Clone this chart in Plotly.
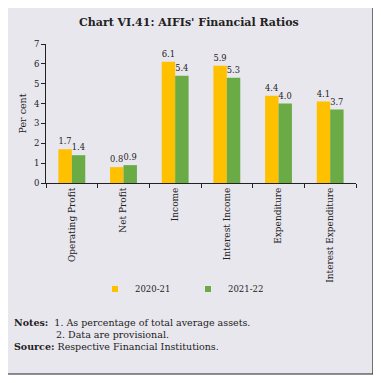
import plotly.graph_objects as go

categories = ["Operating Profit", "Net Profit", "Income", "Interest Income", "Expenditure", "Interest Expenditure"]
series_names = ["2020-21", "2021-22"]
values_2020_21 = [1.7, 0.8, 6.1, 5.9, 4.4, 4.1]
values_2021_22 = [1.4, 0.9, 5.4, 5.3, 4.0, 3.7]
y_ticks = [0, 1, 2, 3, 4, 5, 6, 7]
colors = ["#FFC000", "#6AAB46"]

FONT = "DejaVu Serif"
OFF = 8  # page body margin
W, H = 381 - 2 * OFF, 383 - 2 * OFF
# plot area in page coordinates
PL, PR, PT, PB = 46, 356, 44, 183
L, R, T, B = PL - OFF, W - (PR - OFF), PT - OFF, H - (PB - OFF)
pw, ph = W - L - R, H - T - B

def px(x):
    return (x - OFF - L) / pw

def py(y):
    return (H - B - (y - OFF)) / ph

TXT = "#222"
fig = go.Figure()
for name, vals, col in zip(series_names, [values_2020_21, values_2021_22], colors):
    fig.add_trace(go.Bar(x=categories, y=vals, name=name, showlegend=False, legendgroup=name,
                         marker=dict(color=col, line=dict(width=0)),
                         text=[f"{v:.1f}" for v in vals], textposition="outside",
                         textfont=dict(family=FONT, size=9, color=TXT), cliponaxis=False))
for name, col in zip(series_names, colors):
    fig.add_trace(go.Scatter(x=[None], y=[None], mode="markers", name=name, legendgroup=name,
                             marker=dict(symbol="square", size=6, color=col), showlegend=True))

fig.update_layout(
    width=W, height=H,
    margin=dict(l=L, r=R, t=T, b=B, autoexpand=False),
    paper_bgcolor="white", plot_bgcolor="rgba(0,0,0,0)",
    barmode="group", bargap=0.48, bargroupgap=0,
    font=dict(family=FONT, size=8, color=TXT),
    showlegend=True,
    legend=dict(orientation="h", x=px(95), xanchor="left", y=py(289), yanchor="middle",
                font=dict(family=FONT, size=8.5, color=TXT), bgcolor="rgba(0,0,0,0)",
                itemwidth=30, entrywidth=48, traceorder="normal"),
    xaxis=dict(showline=True, linecolor=TXT, linewidth=1, ticks="outside", ticklen=4,
               tickcolor=TXT, tickson="boundaries", tickangle=-90,
               tickfont=dict(family=FONT, size=9, color=TXT), showgrid=False),
    yaxis=dict(range=[0, 7], tickvals=y_ticks, showline=True, linecolor=TXT, linewidth=1,
               ticks="outside", ticklen=4, tickcolor=TXT, showgrid=False, zeroline=False,
               tickfont=dict(family=FONT, size=8.5, color=TXT),
               title=dict(text="Per cent", font=dict(family=FONT, size=9.5, color=TXT), standoff=5)),
    shapes=[dict(type="rect", xref="paper", yref="paper", layer="below",
                 x0=px(5), x1=px(373), y0=py(374), y1=py(6),
                 fillcolor="#E9E7EE", line=dict(color=TXT, width=1.2))],
    annotations=[
        dict(text="<b>Chart VI.41: AIFIs' Financial Ratios</b>", xref="paper", yref="paper",
             x=px(189), y=py(22), xanchor="center", yanchor="middle", showarrow=False,
             font=dict(family=FONT, size=11, color=TXT)),
        dict(text="<b>Notes:</b>  1. As percentage of total average assets.", xref="paper", yref="paper",
             x=px(12), y=py(322), xanchor="left", yanchor="middle", showarrow=False,
             font=dict(family=FONT, size=9.5, color=TXT)),
        dict(text="2. Data are provisional.", xref="paper", yref="paper",
             x=px(54), y=py(334), xanchor="left", yanchor="middle", showarrow=False,
             font=dict(family=FONT, size=9.5, color=TXT)),
        dict(text="<b>Source:</b> Respective Financial Institutions.", xref="paper", yref="paper",
             x=px(12), y=py(347), xanchor="left", yanchor="middle", showarrow=False,
             font=dict(family=FONT, size=9.5, color=TXT)),
    ],
)

fig.write_html("out.html")
